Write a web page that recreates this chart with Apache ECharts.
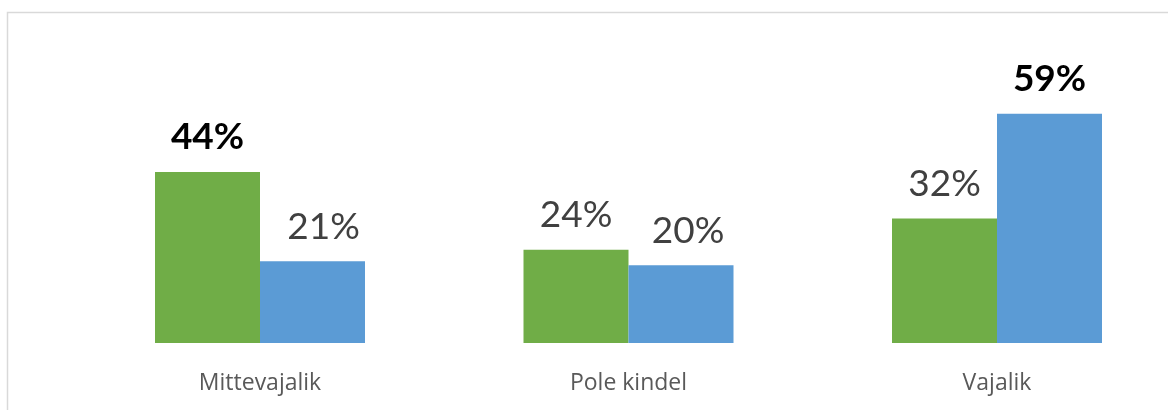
<!DOCTYPE html>
<html>
<head>
<meta charset="utf-8">
<script src="https://cdn.jsdelivr.net/npm/echarts@6/dist/echarts.min.js"></script>
<style>
  html, body { margin: 0; padding: 0; background: #fff; }
  #main { width: 1168px; height: 410px; }
</style>
</head>
<body>
<div id="main"></div>
<script>
// andmed
let categories = ['Mittevajalik', 'Pole kindel', 'Vajalik'];
let greenValues = [44, 24, 32];
let blueValues = [21, 20, 59];

let myChart = echarts.init(document.getElementById('main'));

// iga seeria suurim väärtus on paksus kirjas
function buildData(values, shifts) {
    let top = Math.max.apply(null, values);
    return values.map((v, i) => {
        let label = v === top ? { color: '#000', fontWeight: 'bold' } : {};
        if (shifts && shifts[i]) label.offset = [shifts[i], 0];   // käsitsi nihutatud sildid
        return { value: v, label: label };
    });
}

let labelStyle = {
    show: true,
    position: 'top',
    distance: 16,
    formatter: '{c}%',
    fontFamily: 'Lato',
    fontSize: 37,
    color: '#404040'
};

let option = {
    animation: false,
    backgroundColor: '#fff',
    graphic: [{
        type: 'polyline',
        silent: true,
        shape: { points: [[7.5, 410], [7.5, 12.5], [1168, 12.5]] },
        style: { stroke: '#d9d9d9', lineWidth: 1.5, fill: null }
    }],
    // kategooriate keskpunktid grid'i servadel (boundaryGap: false)
    grid: {
        left: 260,
        right: 171,
        top: 32,
        bottom: 67
    },
    xAxis: {
        type: 'category',
        data: categories,
        boundaryGap: false,
        axisLine: { show: false },
        axisTick: { show: false },
        splitLine: { show: false },
        axisLabel: {
            margin: 29,
            fontFamily: 'Open Sans',
            fontSize: 23,
            color: '#595959'
        }
    },
    yAxis: {
        type: 'value',
        min: 0,
        max: 80,
        show: false,
        splitLine: { show: false }
    },
    series: [{
        name: 'Roheline',
        type: 'bar',
        barWidth: 105,
        barGap: '0%',
        itemStyle: { color: '#70ad47' },
        label: labelStyle,
        data: buildData(greenValues)
    }, {
        name: 'Sinine',
        type: 'bar',
        barWidth: 105,
        barGap: '0%',
        itemStyle: { color: '#5b9bd5' },
        label: labelStyle,
        data: buildData(blueValues, [11, 7, 0])
    }]
};

myChart.setOption(option);
</script>
</body>
</html>
